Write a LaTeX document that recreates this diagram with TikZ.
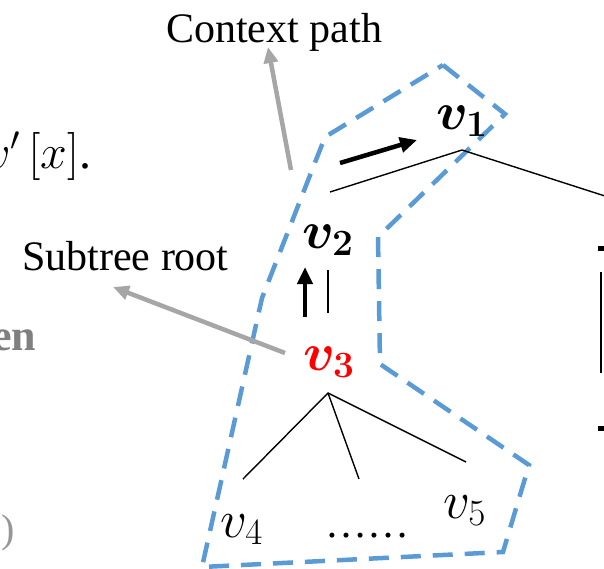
\RequirePackage{fix-cm}
\documentclass[tikz,border=0pt]{standalone}
\usepackage{fontspec}
\setmainfont{Liberation Serif}
\usepackage{bm}
\usetikzlibrary{arrows.meta}
\definecolor{cpblue}{RGB}{91,155,213}
\definecolor{ptgray}{RGB}{166,166,166}
\definecolor{txgray}{RGB}{128,128,128}
\definecolor{pgray}{RGB}{150,150,150}
\tikzset{
  ctxline/.style={draw=cpblue, line width=4.5pt, dash pattern=on 20pt off 12pt},
  treeedge/.style={draw=black, line width=1.4pt},
  pathstep/.style={draw=black, line width=4.5pt, -{Triangle[length=17pt,width=15pt]}},
  pointer/.style={draw=ptgray, line width=4.5pt, -{Triangle[length=16pt,width=14pt]}},
  lbl/.style={inner sep=0pt, anchor=base west, font=\fontsize{42}{50}\selectfont},
  vlab/.style={inner sep=0pt, anchor=base west, font=\fontsize{53}{60}\selectfont},
}
\begin{document}
\begin{tikzpicture}[x=1pt,y=-1pt]
\useasboundingbox (0,0) rectangle (604,568);
\clip (0,0) rectangle (604,568);

% context path outline
\draw[ctxline] (443,65) -- (505,114) -- (378,237) -- (380,364) -- (529,465)
  -- (503,552) -- (202,567) -- (262,298) -- (325,137) -- cycle;

% tree
\coordinate (j1) at (462,150);
\coordinate (e1l) at (330,192);
\coordinate (e1r) at (608,197);
\coordinate (e2t) at (328,270);
\coordinate (e2b) at (328,313);
\coordinate (j3) at (328,393);
\coordinate (c4) at (243,479);
\coordinate (cm) at (359,479);
\coordinate (c5) at (466,462);
\draw[treeedge] (e1l) -- (j1) -- (e1r);
\draw[treeedge] (e2t) -- (e2b);
\draw[treeedge] (c4) -- (j3) -- (c5);
\draw[treeedge] (j3) -- (cm);

% path direction arrows
\coordinate (s1a) at (340,163);
\coordinate (s1b) at (417,140);
\coordinate (s2a) at (305,317);
\coordinate (s2b) at (305,267);
\draw[pathstep] (s1a) -- (s1b);
\draw[pathstep] (s2a) -- (s2b);

% labels
\node[vlab] (v1) at (436,129) {$\bm{v}_{\bm{1}}$};
\node[vlab] (v2) at (302,248) {$\bm{v}_{\bm{2}}$};
\node[vlab, text=red] (v3) at (303,370) {$\bm{v}_{\bm{3}}$};
\node[vlab] (v4) at (220,537) {$v_4$};
\node[vlab] (v5) at (443,518) {$v_5$};
\node[lbl] (dots) at (325,537) {……};

\node[lbl] (ctx) at (166,42) {Context path};
\node[lbl] (sub) at (22,270) {Subtree root};

% pointers
\coordinate (ctxfoot) at (291,170);
\coordinate (ctxtip) at (268,47);
\coordinate (subfoot) at (285,353);
\coordinate (subtip) at (113,287);
\draw[pointer] (ctxfoot) -- (ctxtip);
\draw[pointer] (subfoot) -- (subtip);

% fragments at the left edge
\node[inner sep=0pt, anchor=base west, font=\fontsize{48}{54}\selectfont] (frag1) at (-14,168) {$v'\mkern3mu[x]$.};
\node[lbl, font=\fontsize{44}{50}\selectfont\bfseries, text=txgray] (frag2) at (-8,350) {en};
\node[lbl, font=\fontsize{40}{48}\selectfont, text=pgray] (frag3) at (1,542) {)};

% fragments at the right edge
\fill (598,246) rectangle (604,251);
\fill (598,426) rectangle (604,431);
\draw[treeedge] (601,272) -- (601,373);
\end{tikzpicture}
\end{document}
